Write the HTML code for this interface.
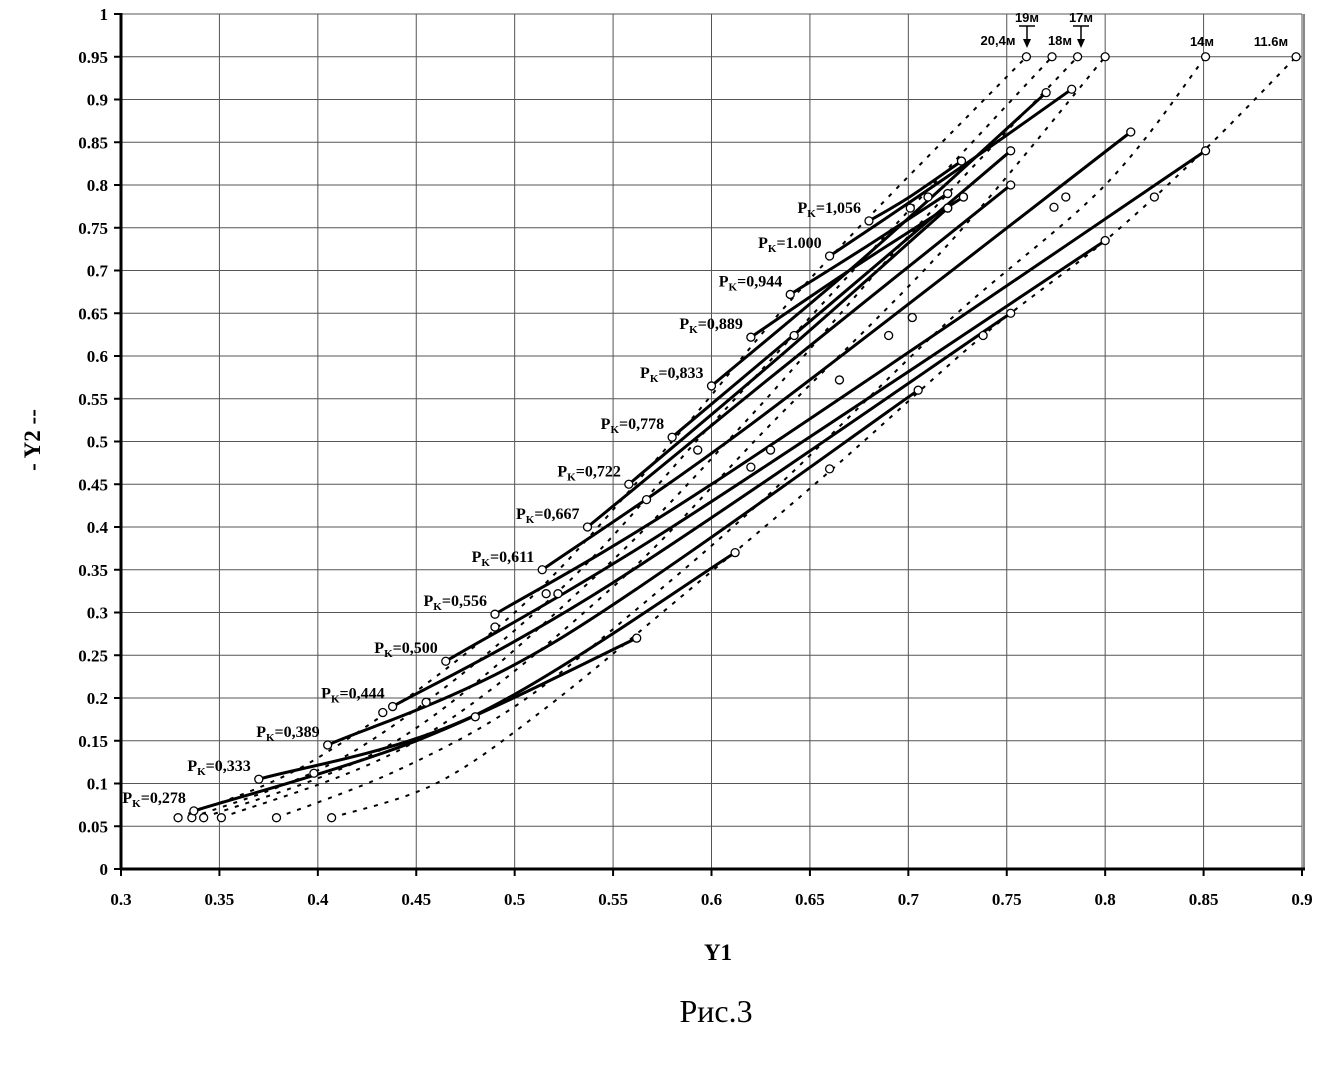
<!DOCTYPE html>
<html><head><meta charset="utf-8"><style>
html,body{margin:0;padding:0;background:#fff;}
svg{display:block;}
text{font-family:"Liberation Serif",serif;}
</style></head><body>
<svg id="chart" width="1323" height="1084" xmlns="http://www.w3.org/2000/svg">
<g id="grid"></g>
<g id="dotted"></g>
<g id="solid"></g>
<g id="marks"></g>
<g id="axes"></g>
<g id="labels"></g>
<text x="40" y="440" transform="rotate(-90 40 440)" text-anchor="middle" font-weight="bold" font-size="23">- Y2 --</text>
<text x="718" y="960" text-anchor="middle" font-weight="bold" font-size="23">Y1</text>
<text x="716" y="1022" text-anchor="middle" font-size="32">Рис.3</text>
</svg>
<script>
const xTicks=[0.3,0.35,0.4,0.45,0.5,0.55,0.6,0.65,0.7,0.75,0.8,0.85,0.9];
const xTickLabels=["0.3","0.35","0.4","0.45","0.5","0.55","0.6","0.65","0.7","0.75","0.8","0.85","0.9"];
const yTicks=[0,0.05,0.1,0.15,0.2,0.25,0.3,0.35,0.4,0.45,0.5,0.55,0.6,0.65,0.7,0.75,0.8,0.85,0.9,0.95,1];
const yTickLabels=["0","0.05","0.1","0.15","0.2","0.25","0.3","0.35","0.4","0.45","0.5","0.55","0.6","0.65","0.7","0.75","0.8","0.85","0.9","0.95","1"];
const seriesNames=["0,278","0,333","0,389","0,444","0,500","0,556","0,611","0,667","0,722","0,778","0,833","0,889","0,944","1.000","1,056"];
const s278=[[.337,.068],[.45,.150],[.562,.27]];
const s333=[[.37,.105],[.48,.18],[.612,.37]];
const s389=[[.405,.145],[.52,.265],[.705,.56]];
const s444=[[.438,.19],[.55,.335],[.752,.65]];
const s500=[[.465,.243],[.58,.40],[.80,.735]];
const s556=[[.49,.298],[.60,.45],[.851,.84]];
const s611=[[.514,.35],[.62,.52],[.813,.862]];
const s667=[[.537,.40],[.63,.575],[.752,.80]];
const s722=[[.558,.45],[.64,.61],[.72,.773]];
const s778=[[.58,.505],[.66,.66],[.752,.84]];
const s833=[[.60,.565],[.68,.72],[.77,.908]];
const s889=[[.62,.622],[.67,.70],[.728,.786]];
const s944=[[.64,.672],[.68,.73],[.72,.79]];
const s1000=[[.66,.717],[.72,.81],[.783,.912]];
const s1056=[[.68,.758],[.70,.785],[.727,.828]];
const solidSeries=[s278,s333,s389,s444,s500,s556,s611,s667,s722,s778,s833,s889,s944,s1000,s1056];
const dot1=[[.329,.06],[.40,.13],[.50,.30],[.58,.50],[.65,.69],[.76,.95]];
const dot2=[[.336,.06],[.42,.14],[.52,.32],[.60,.52],[.68,.72],[.773,.95]];
const dot3=[[.342,.06],[.44,.15],[.54,.34],[.62,.53],[.70,.74],[.786,.95]];
const dot4=[[.351,.06],[.45,.15],[.55,.33],[.63,.52],[.72,.73],[.80,.95]];
const dot5=[[.379,.06],[.44,.115],[.50,.19],[.56,.30],[.63,.44],[.72,.64],[.80,.80],[.851,.95]];
const dot6=[[.407,.06],[.46,.10],[.514,.185],[.587,.323],[.66,.465],[.738,.624],[.80,.735],[.85,.84],[.897,.95]];
const dottedSeries=[dot1,dot2,dot3,dot4,dot5,dot6];
const extraMarkers=[[.398,.112],[.48,.178],[.433,.183],[.455,.195],[.49,.283],[.516,.322],[.522,.322],[.567,.432],[.593,.49],[.62,.47],[.63,.49],[.665,.572],[.69,.624],[.702,.645],[.738,.624],[.774,.774],[.78,.786],[.825,.786],[.66,.468],[.701,.773],[.72,.773],[.728,.786],[.71,.786],[.642,.624]];

const NS="http://www.w3.org/2000/svg";
const L=121,R=1302,T=14,B=869;
function X(v){return L+(v-0.3)/0.6*(R-L);}
function Y(v){return B-v*(B-T);}
function mk(tag,attrs,parent){const e=document.createElementNS(NS,tag);for(const k in attrs)e.setAttribute(k,attrs[k]);parent.appendChild(e);return e;}
function smooth(pts){
  const p=pts.map(q=>[X(q[0]),Y(q[1])]);
  let d="M"+p[0][0].toFixed(1)+","+p[0][1].toFixed(1);
  for(let i=0;i<p.length-1;i++){
    const p0=p[Math.max(0,i-1)],p1=p[i],p2=p[i+1],p3=p[Math.min(p.length-1,i+2)];
    const c1=[p1[0]+(p2[0]-p0[0])/6,p1[1]+(p2[1]-p0[1])/6];
    const c2=[p2[0]-(p3[0]-p1[0])/6,p2[1]-(p3[1]-p1[1])/6];
    d+=" C"+c1.map(v=>v.toFixed(1)).join(",")+" "+c2.map(v=>v.toFixed(1)).join(",")+" "+p2.map(v=>v.toFixed(1)).join(",");
  }
  return d;
}
const grid=document.getElementById('grid'),axes=document.getElementById('axes');
xTicks.forEach((v,i)=>{
  if(i>0){const g=mk('line',{x1:X(v),x2:X(v),y1:T,y2:B,stroke:'#555','stroke-width':1},grid);
  
  }
  const t=mk('line',{x1:X(v),x2:X(v),y1:B,y2:B+7,stroke:'#000','stroke-width':2},axes);
  
  
  const tx=mk('text',{x:X(v),y:B+36,'text-anchor':'middle','font-weight':'bold','font-size':17},axes);
  tx.textContent=xTickLabels[i];
  
  
});
yTicks.forEach((v,i)=>{
  if(i>0){const g=mk('line',{x1:L,x2:R,y1:Y(v),y2:Y(v),stroke:'#555','stroke-width':1},grid);
  
  }
  const t=mk('line',{x1:L-7,x2:L,y1:Y(v),y2:Y(v),stroke:'#000','stroke-width':2},axes);
  
  
  const tx=mk('text',{x:L-13,y:Y(v)+6,'text-anchor':'end','font-weight':'bold','font-size':17},axes);
  tx.textContent=yTickLabels[i];
  
  
});
const rb=mk('line',{x1:R+2,x2:R+2,y1:T,y2:B,stroke:'#888','stroke-width':2},grid);


const ax1=mk('line',{x1:L,x2:L,y1:T-1,y2:B+1,stroke:'#000','stroke-width':3},axes);


const ax2=mk('line',{x1:L-1,x2:R+3,y1:B,y2:B,stroke:'#000','stroke-width':3},axes);



const dg=document.getElementById('dotted'),sg=document.getElementById('solid'),mg=document.getElementById('marks'),lg=document.getElementById('labels');
function circ(p){const c=mk('circle',{cx:X(p[0]),cy:Y(p[1]),r:4,fill:'#fff',stroke:'#000','stroke-width':1.3},mg);
  
  }
dottedSeries.forEach(s=>{
  const p=mk('path',{d:smooth(s),fill:'none',stroke:'#000','stroke-width':2,'stroke-dasharray':'4 7'},dg);
  
  
  circ(s[0]);circ(s[s.length-1]);
});
solidSeries.forEach((s,i)=>{
  const p=mk('path',{d:smooth(s),fill:'none',stroke:'#000','stroke-width':3},sg);
  
  
  circ(s[0]);circ(s[s.length-1]);
  const t=mk('text',{x:X(s[0][0])-8,y:Y(s[0][1])-8,'text-anchor':'end','font-weight':'bold','font-size':16},lg);
  
  
  const a=mk('tspan',{},t);a.textContent='P';
  const b=mk('tspan',{'font-size':11,dy:4},t);b.textContent='K';
  const c=mk('tspan',{dy:-4},t);c.textContent='='+seriesNames[i];
});
extraMarkers.forEach(circ);
const ann=[[1027,22,"19м",true],[1081,22,"17м",true],[998,45,"20,4м",false],[1060,45,"18м",false],[1202,46,"14м",false],[1271,46,"11.6м",false]];
ann.forEach(a=>{
  const t=mk('text',{x:a[0],y:a[1],'text-anchor':'middle','font-size':13},lg);
  t.setAttribute('style','font-family:"Liberation Sans",sans-serif;font-weight:bold');
  t.textContent=a[2];
  
  
  if(a[3]){
    const ar=mk('path',{d:`M${a[0]-8},${a[1]+4} H${a[0]+8} M${a[0]},${a[1]+4} V${a[1]+22}`,stroke:'#000','stroke-width':1.5,fill:'none'},lg);
    
    
    const h=mk('path',{d:`M${a[0]-4},${a[1]+17} L${a[0]+4},${a[1]+17} L${a[0]},${a[1]+26}Z`,fill:'#000'},lg);
    
    
  }
});
</script>
</body></html>
